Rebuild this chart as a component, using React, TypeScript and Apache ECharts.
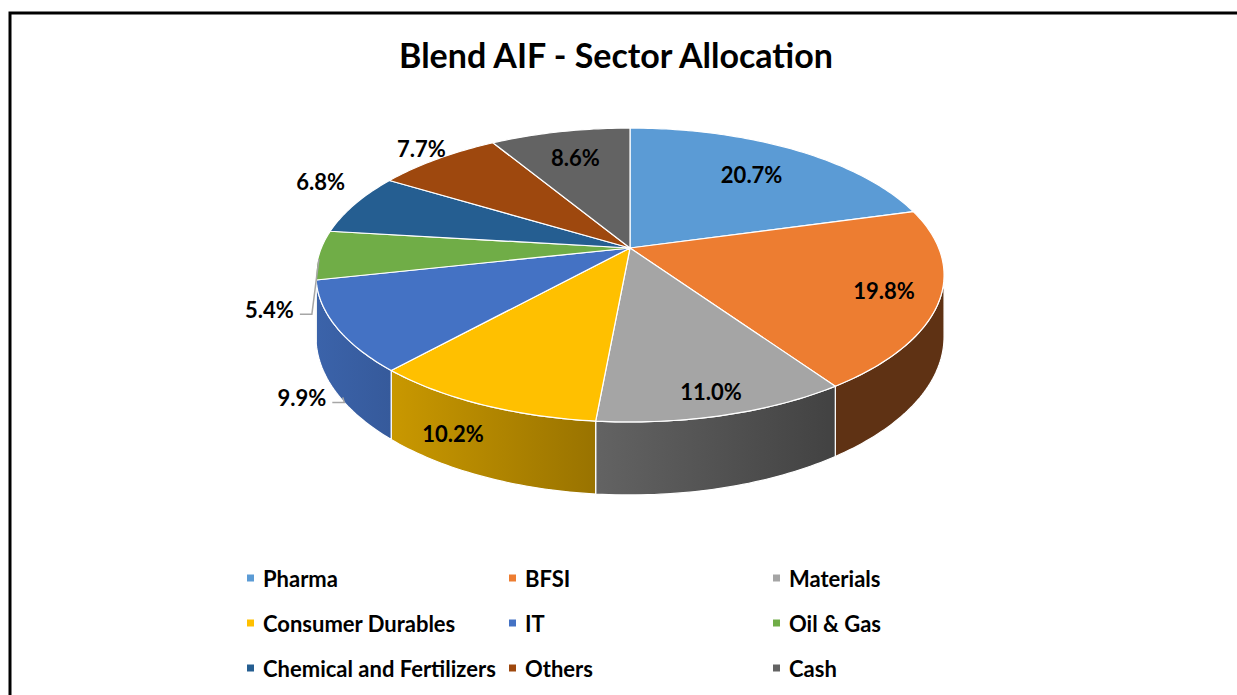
import React, { useEffect, useRef } from 'react';
import * as echarts from 'echarts';

// ---- Data ----
const categories = [
  'Pharma',
  'BFSI',
  'Materials',
  'Consumer Durables',
  'IT',
  'Oil & Gas',
  'Chemical and Fertilizers',
  'Others',
  'Cash',
];
const values = [20.7, 19.8, 11.0, 10.2, 9.9, 5.4, 6.8, 7.7, 8.6];
const colors = ['#5B9BD5', '#ED7D31', '#A5A5A5', '#FFC000', '#4472C4', '#70AD47', '#255E91', '#9E480E', '#636363'];
const titleText = 'Blend AIF - Sector Allocation';

// ---- Layout (3D pie projection) ----
const PIE = { cx: 630, cy: 248, A: 308.7, B: 142, k: 0.1837, H: 59.6 };
// label placement per slice: r = radial factor, dA = angle shift (deg), drop = fraction of wall depth,
// leader = offset of label's right edge / centre from anchor point
const labelLayout: any[] = [
  { r: 0.72, dA: 0, drop: 0 },
  { r: 0.83, dA: 0, drop: 0 },
  { r: 0.88, dA: 0, drop: 0 },
  { r: 1, dA: 5.2, drop: 0.52 },
  { r: 1, dA: -2.9, drop: 0.95, leader: [-16.5, 0] },
  { r: 1, dA: 0, drop: 0.07, leader: [-25, 50] },
  { r: 1.21, dA: 5.9, drop: 0 },
  { r: 1.12, dA: 0.9, drop: 0 },
  { r: 0.75, dA: 0, drop: 0 },
];

const FONT = 'Lato, "Open Sans", sans-serif';
const LABEL_SIZE = 22;

function proj(deg: number, r = 1, drop = 0): [number, number] {
  const t = (deg * Math.PI) / 180;
  const u = r * Math.sin(t);
  const v = r * Math.cos(t);
  const D = 1 + PIE.k * v;
  return [PIE.cx + (PIE.A * u) / D, PIE.cy - (PIE.B * v) / D + (drop * PIE.H) / D];
}

const WALL_MIN = (Math.acos(-PIE.k) * 180) / Math.PI;
const WALL_MAX = 360 - WALL_MIN;

function shade(deg: number) {
  if (deg <= 146) return 0.4;
  if (deg <= 222) return 0.4 + ((deg - 146) / 76) * 0.39;
  return Math.min(0.87, 0.79 + ((deg - 222) / 37) * 0.08);
}
function darken(hex: string, f: number) {
  const n = parseInt(hex.slice(1), 16);
  const r = Math.round(((n >> 16) & 255) * f);
  const g = Math.round(((n >> 8) & 255) * f);
  const b = Math.round((n & 255) * f);
  return `rgb(${r},${g},${b})`;
}

export default function App() {
  const ref = useRef<HTMLDivElement>(null);
  useEffect(() => {
    if (!ref.current) return;
    const chart = echarts.init(ref.current, null, { renderer: 'svg' });
    const total = values.reduce((a, b) => a + b, 0);
    const starts: number[] = [];
    let acc = 0;
    values.forEach((v) => {
      starts.push((acc / total) * 360);
      acc += v;
    });

    const renderItem = (params: any, api: any) => {
      const i = params.dataIndex;
      const v = api.value(0);
      const a0 = starts[i];
      const a1 = a0 + (v / total) * 360;
      const children: any[] = [];
      // side wall
      const wa = Math.max(a0, WALL_MIN);
      const wb = Math.min(a1, WALL_MAX);
      if (wb > wa) {
        const top: number[][] = [];
        const bot: number[][] = [];
        const n = Math.max(4, Math.ceil(wb - wa));
        for (let s = 0; s <= n; s++) {
          const d = wa + ((wb - wa) * s) / n;
          top.push(proj(d, 1, 0));
          bot.push(proj(d, 1, 1));
        }
        const pts = top.concat(bot.reverse());
        children.push({
          type: 'polygon',
          shape: { points: pts },
          style: {
            fill: new echarts.graphic.LinearGradient(0, 0, 1, 0, [
              { offset: 0, color: darken(colors[i], shade(wb)) },
              { offset: 1, color: darken(colors[i], shade(wa)) },
            ]),
            stroke: '#ffffff',
            lineWidth: 1.2,
            lineJoin: 'round',
          },
        });
      }
      // top face
      const tp: number[][] = [[PIE.cx, PIE.cy]];
      const n2 = Math.max(4, Math.ceil(a1 - a0));
      for (let s = 0; s <= n2; s++) {
        tp.push(proj(a0 + ((a1 - a0) * s) / n2));
      }
      children.push({
        type: 'polygon',
        shape: { points: tp },
        style: { fill: colors[i], stroke: '#ffffff', lineWidth: 1.2, lineJoin: 'round' },
      });
      // label
      const L = labelLayout[i];
      const mid = (a0 + a1) / 2 + L.dA;
      const p = proj(mid, L.r, L.drop);
      const text = `${v.toFixed(1)}%`;
      const textStyle = {
        fill: '#000',
        fontFamily: FONT,
        fontWeight: 'bold',
        fontSize: LABEL_SIZE,
        verticalAlign: 'middle',
      };
      if (L.leader) {
        const rx = p[0] + L.leader[0];
        const ry = p[1] + L.leader[1];
        children.push({
          type: 'polyline',
          z2: 50,
          shape: { points: [p, [rx + 18, ry + 5], [rx + 6, ry + 5]] },
          style: { stroke: '#a6a6a6', lineWidth: 1.5, fill: null },
        });
        children.push({
          type: 'text',
          z2: 100,
          style: { ...textStyle, text, x: rx, y: ry, align: 'right' },
        });
      } else {
        children.push({
          type: 'text',
          z2: 100,
          style: { ...textStyle, text, x: p[0], y: p[1], align: 'center' },
        });
      }
      return { type: 'group', children };
    };

    const legendCols = [0, 1, 2].map((c) => categories.filter((_, idx) => idx % 3 === c));
    const legendLeft = [247, 509, 773];

    chart.setOption({
      animation: false,
      backgroundColor: '#ffffff',
      title: {
        text: titleText,
        left: 611,
        top: 32,
        textAlign: 'center',
        textStyle: { fontFamily: FONT, fontWeight: 'bold', fontSize: 34, color: '#000' },
      },
      legend: legendCols.map((names, c) => ({
        orient: 'vertical',
        left: legendLeft[c],
        top: 567,
        padding: 0,
        itemWidth: 7,
        itemHeight: 7,
        itemGap: 23,
        icon: 'rect',
        selectedMode: false,
        data: names,
        textStyle: {
          fontFamily: FONT,
          fontWeight: 'bold',
          fontSize: 22,
          color: '#000',
          lineHeight: 22,
          padding: [0, 0, 0, 4],
        },
      })),
      graphic: [
        {
          type: 'rect',
          shape: { x: 10, y: 13, width: 1400, height: 900 },
          style: { fill: null, stroke: '#000', lineWidth: 3 },
          silent: true,
        },
      ],
      series: [
        {
          type: 'pie',
          radius: [0, 1],
          center: [-100, -100],
          silent: true,
          label: { show: false },
          labelLine: { show: false },
          data: categories.map((name, i) => ({ name, value: values[i], itemStyle: { color: colors[i] } })),
        },
        {
          type: 'custom',
          coordinateSystem: 'none',
          silent: true,
          data: values.map((v, i) => [v, i]),
          renderItem,
        },
      ],
    });
    return () => chart.dispose();
  }, []);
  return <div ref={ref} style={{ position: 'absolute', left: 0, top: 0, width: 1237, height: 695 }} />;
}
